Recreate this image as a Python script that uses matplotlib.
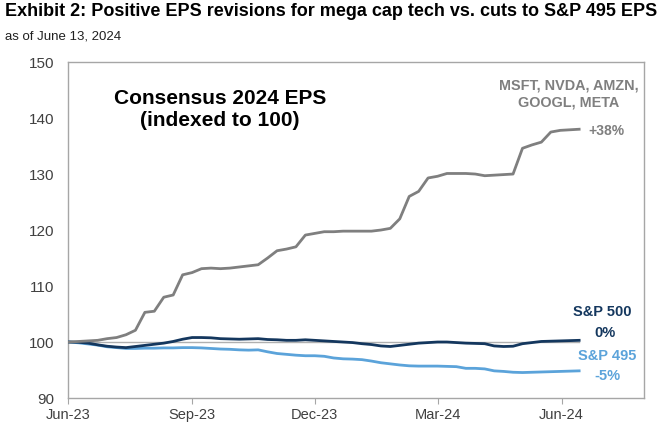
import numpy as np
import pandas as pd
import matplotlib
matplotlib.use("Agg")
import matplotlib.pyplot as plt
import matplotlib.dates as mdates

plt.rcParams['font.family'] = ['Liberation Sans', 'DejaVu Sans']

# Weekly consensus 2024 EPS, indexed to 100
dates = pd.date_range("2023-06-02", periods=55, freq="7D")

mega_cap = [100.0, 100.1, 100.2, 100.3, 100.6, 100.8, 101.3, 102.1, 105.3, 105.5,
            108.0, 108.4, 112.0, 112.4, 113.1, 113.2, 113.1, 113.2, 113.4, 113.6,
            113.8, 115.0, 116.3, 116.6, 117.0, 119.1, 119.4, 119.7, 119.7, 119.8,
            119.8, 119.8, 119.8, 120.0, 120.3, 122.0, 126.0, 126.9, 129.3, 129.6,
            130.1, 130.1, 130.1, 130.0, 129.7, 129.8, 129.9, 130.0, 134.6, 135.2,
            135.7, 137.5, 137.8, 137.9, 138.0]

sp500 = [100.0, 99.95, 99.8, 99.5, 99.25, 99.1, 99.0, 99.2, 99.4, 99.6,
         99.8, 100.1, 100.5, 100.8, 100.8, 100.75, 100.6, 100.55, 100.5, 100.55,
         100.6, 100.45, 100.4, 100.3, 100.3, 100.4, 100.3, 100.2, 100.1, 100.0,
         99.9, 99.7, 99.55, 99.3, 99.2, 99.4, 99.6, 99.8, 99.9, 100.0,
         100.0, 99.9, 99.8, 99.75, 99.7, 99.3, 99.2, 99.25, 99.7, 99.9,
         100.1, 100.15, 100.2, 100.25, 100.3]

sp495 = [100.0, 99.85, 99.65, 99.45, 99.15, 99.0, 98.85, 98.85, 98.9, 98.9,
         98.95, 98.95, 99.0, 99.0, 98.95, 98.85, 98.75, 98.7, 98.6, 98.55,
         98.6, 98.25, 97.95, 97.8, 97.65, 97.55, 97.55, 97.45, 97.15, 97.0,
         96.95, 96.85, 96.6, 96.3, 96.1, 95.9, 95.75, 95.7, 95.7, 95.7,
         95.65, 95.6, 95.3, 95.3, 95.2, 94.85, 94.75, 94.6, 94.55, 94.6,
         94.65, 94.7, 94.75, 94.8, 94.85]

tick_dates = pd.to_datetime(["2023-06-01", "2023-09-01", "2023-12-01", "2024-03-01", "2024-06-01"])
tick_labels = ["Jun-23", "Sep-23", "Dec-23", "Mar-24", "Jun-24"]

gray = "#7f7f7f"
navy = "#14375e"
blue = "#5ba3da"
axis_gray = "#a6a6a6"

fig = plt.figure(figsize=(6.7, 4.25), dpi=100)
ax = fig.add_axes([0.1015, 0.0635, 0.8595, 0.7905])

ax.plot([dates[0], dates[-1]], [100, 100], color="#b0b0b0", lw=1.0, zorder=1)
ax.plot(dates, sp495, color=blue, lw=2.0, zorder=3)
ax.plot(dates, sp500, color=navy, lw=2.0, zorder=4)
ax.plot(dates, mega_cap, color=gray, lw=2.0, zorder=5)

ax.set_xlim(pd.Timestamp("2023-06-01"), pd.Timestamp("2024-08-01"))
ax.set_ylim(90, 150)
ax.set_yticks(range(90, 151, 10))
ax.set_xticks(tick_dates)
ax.set_xticklabels(tick_labels)
ax.tick_params(axis="y", length=0, pad=10, labelsize=11, labelcolor="#404040")
ax.tick_params(axis="x", length=4, color=axis_gray, labelsize=10.5, labelcolor="#404040", pad=3)
for s in ax.spines.values():
    s.set_color(axis_gray)
    s.set_linewidth(1.0)

ax.text(0.264, 0.859, "Consensus 2024 EPS\n(indexed to 100)", transform=ax.transAxes,
        ha="center", va="center", fontsize=15, fontweight="bold", color="black",
        linespacing=1.15)
ax.text(0.870, 0.905, "MSFT, NVDA, AMZN,\nGOOGL, META", transform=ax.transAxes,
        ha="center", va="center", fontsize=10.4, fontweight="bold", color=gray,
        linespacing=1.2)
ax.text(0.903, 0.795, "+38%", transform=ax.transAxes, ha="left", va="center",
        fontsize=10, fontweight="bold", color=gray)
ax.text(0.928, 0.256, "S&P 500", transform=ax.transAxes, ha="center", va="center",
        fontsize=10.5, fontweight="bold", color=navy)
ax.text(0.933, 0.193, "0%", transform=ax.transAxes, ha="center", va="center",
        fontsize=10.5, fontweight="bold", color=navy)
ax.text(0.936, 0.125, "S&P 495", transform=ax.transAxes, ha="center", va="center",
        fontsize=10.5, fontweight="bold", color=blue)
ax.text(0.936, 0.065, "-5%", transform=ax.transAxes, ha="center", va="center",
        fontsize=10.5, fontweight="bold", color=blue)

fig.text(0.008, 0.972, "Exhibit 2: Positive EPS revisions for mega cap tech vs. cuts to S&P 495 EPS",
         ha="left", va="center", fontsize=13, fontweight="bold", color="black")
fig.text(0.008, 0.913, "as of June 13, 2024", ha="left", va="center", fontsize=9.5, color="#202020")

fig.savefig("out.png", dpi=100)
